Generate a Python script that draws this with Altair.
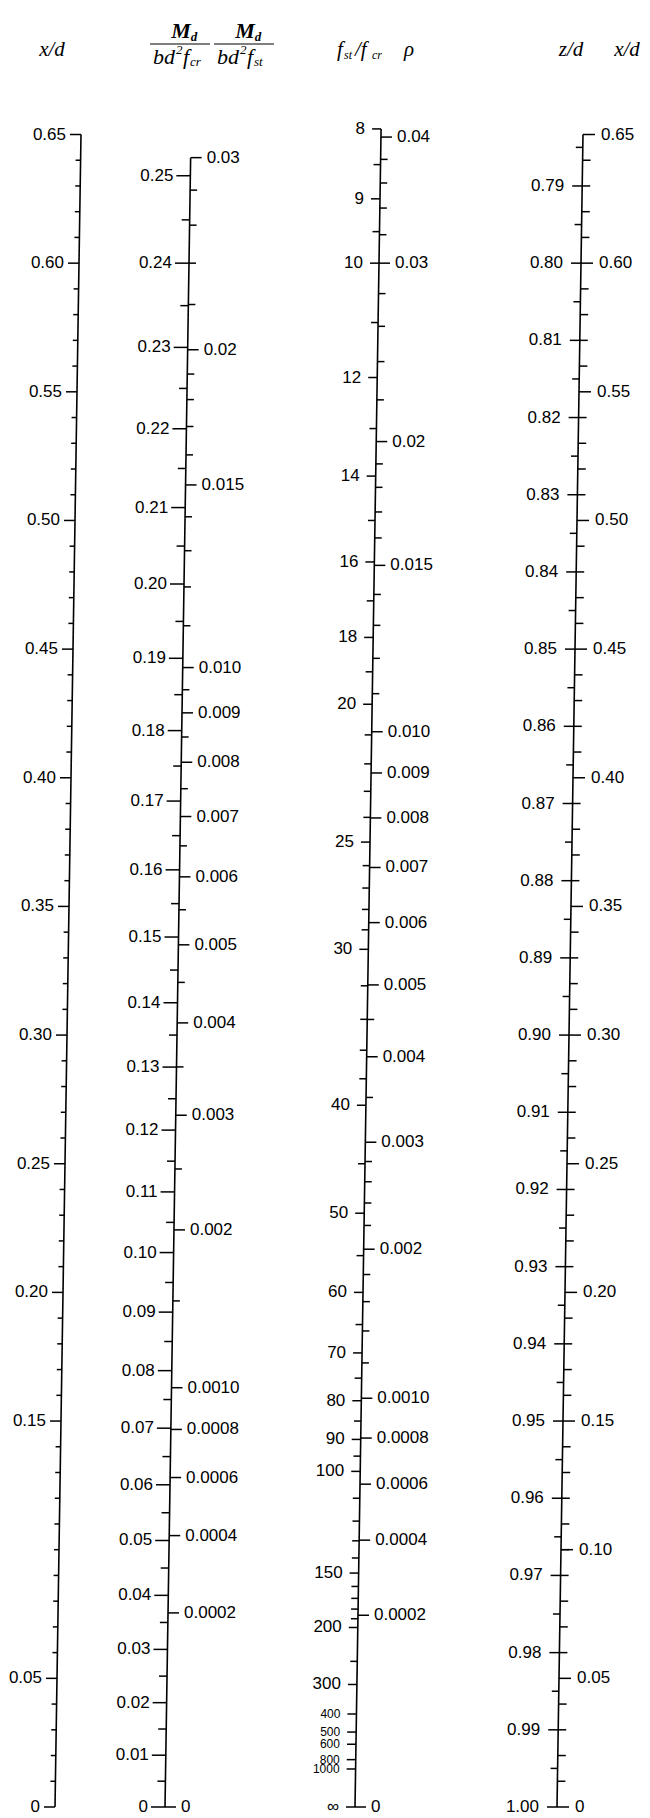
import math
import numpy as np
import pandas as pd
import altair as alt

# ------------------------------------------------------------------
# Scale values printed on the nomogram
# ------------------------------------------------------------------
# Scale 1 : x/d (left)
xd_left_values = [0.65, 0.60, 0.55, 0.50, 0.45, 0.40, 0.35, 0.30, 0.25, 0.20, 0.15, 0.05, 0.0]
xd_left_labels = ["0.65", "0.60", "0.55", "0.50", "0.45", "0.40", "0.35", "0.30", "0.25",
                  "0.20", "0.15", "0.05", "0"]
xd_left_minor = [0.64, 0.63, 0.62, 0.61, 0.59, 0.58, 0.57, 0.56, 0.54, 0.53, 0.52, 0.51,
                 0.49, 0.48, 0.47, 0.46, 0.44, 0.43, 0.42, 0.41, 0.39, 0.38, 0.37, 0.36,
                 0.34, 0.33, 0.32, 0.31, 0.29, 0.28, 0.27, 0.26, 0.24, 0.23, 0.22, 0.21,
                 0.19, 0.18, 0.17, 0.16, 0.14, 0.13, 0.12, 0.11, 0.10, 0.09, 0.08, 0.07,
                 0.06, 0.04, 0.03, 0.02, 0.01]

# Scale 2 : Md/(b d^2 fcr) (left side) and Md/(b d^2 fst) (right side)
mfcr_values = [0.25, 0.24, 0.23, 0.22, 0.21, 0.20, 0.19, 0.18, 0.17, 0.16, 0.15, 0.14, 0.13,
               0.12, 0.11, 0.10, 0.09, 0.08, 0.07, 0.06, 0.05, 0.04, 0.03, 0.02, 0.01, 0.0]
mfcr_labels = ["0.25", "0.24", "0.23", "0.22", "0.21", "0.20", "0.19", "0.18", "0.17", "0.16",
               "0.15", "0.14", "0.13", "0.12", "0.11", "0.10", "0.09", "0.08", "0.07", "0.06",
               "0.05", "0.04", "0.03", "0.02", "0.01", "0"]
mfcr_minor = [0.245, 0.235, 0.225, 0.215, 0.205, 0.195, 0.185, 0.175, 0.165, 0.155, 0.145,
              0.135, 0.125, 0.115, 0.105, 0.095, 0.085, 0.075, 0.065, 0.055, 0.045, 0.035,
              0.025, 0.015, 0.005]
mfst_values = [0.03, 0.02, 0.015, 0.010, 0.009, 0.008, 0.007, 0.006, 0.005, 0.004, 0.003,
               0.002, 0.0010, 0.0008, 0.0006, 0.0004, 0.0002, 0.0]
mfst_labels = ["0.03", "0.02", "0.015", "0.010", "0.009", "0.008", "0.007", "0.006", "0.005",
               "0.004", "0.003", "0.002", "0.0010", "0.0008", "0.0006", "0.0004", "0.0002", "0"]
mfst_minor = [0.028, 0.026, 0.024, 0.022, 0.019, 0.018, 0.017, 0.016, 0.014, 0.013, 0.012,
              0.011, 0.0095, 0.0085, 0.0075, 0.0065, 0.0055, 0.0045, 0.0035, 0.0025, 0.0015]

# Scale 3 : fst/fcr (left side) and rho (right side)
ratio_values = [8, 9, 10, 12, 14, 16, 18, 20, 25, 30, 40, 50, 60, 70, 80, 90, 100, 150, 200,
                300, 400, 500, 600, 800, 1000, math.inf]
ratio_labels = ["8", "9", "10", "12", "14", "16", "18", "20", "25", "30", "40", "50", "60",
                "70", "80", "90", "100", "150", "200", "300", "400", "500", "600", "800",
                "1000", "\u221e"]
ratio_minor = [8.5, 9.5, 11, 13, 15, 17, 19, 21, 22, 23, 24, 26, 27, 28, 29, 32, 34, 36, 38,
               45, 55, 65, 75, 85, 95, 110, 120, 130, 140, 160, 170, 180, 190, 250]
rho_values = [0.04, 0.03, 0.02, 0.015, 0.010, 0.009, 0.008, 0.007, 0.006, 0.005, 0.004,
              0.003, 0.002, 0.0010, 0.0008, 0.0006, 0.0004, 0.0002, 0.0]
rho_labels = ["0.04", "0.03", "0.02", "0.015", "0.010", "0.009", "0.008", "0.007", "0.006",
              "0.005", "0.004", "0.003", "0.002", "0.0010", "0.0008", "0.0006", "0.0004",
              "0.0002", "0"]
rho_minor = [0.038, 0.036, 0.034, 0.032, 0.028, 0.026, 0.024, 0.022, 0.019, 0.018, 0.017,
             0.016, 0.014, 0.013, 0.012, 0.011, 0.0045, 0.0035, 0.0028, 0.0026, 0.0024,
             0.0022, 0.0018, 0.0016, 0.0014, 0.0012]

# Scale 4 : z/d (left side) and x/d (right side)
zd_values = [0.79, 0.80, 0.81, 0.82, 0.83, 0.84, 0.85, 0.86, 0.87, 0.88, 0.89, 0.90, 0.91,
             0.92, 0.93, 0.94, 0.95, 0.96, 0.97, 0.98, 0.99, 1.00]
zd_labels = ["0.79", "0.80", "0.81", "0.82", "0.83", "0.84", "0.85", "0.86", "0.87", "0.88",
             "0.89", "0.90", "0.91", "0.92", "0.93", "0.94", "0.95", "0.96", "0.97", "0.98",
             "0.99", "1.00"]
zd_minor = [0.785, 0.795, 0.805, 0.815, 0.825, 0.835, 0.845, 0.855, 0.865, 0.875, 0.885,
            0.895, 0.905, 0.915, 0.925, 0.935, 0.945, 0.955, 0.965, 0.975, 0.985, 0.995]
xd_right_values = [0.65, 0.60, 0.55, 0.50, 0.45, 0.40, 0.35, 0.30, 0.25, 0.20, 0.15, 0.10,
                   0.05, 0.0]
xd_right_labels = ["0.65", "0.60", "0.55", "0.50", "0.45", "0.40", "0.35", "0.30", "0.25",
                   "0.20", "0.15", "0.10", "0.05", "0"]
xd_right_minor = xd_left_minor

# ------------------------------------------------------------------
# Nomogram relations: every scale is expressed on the common x/d axis
# (cracked elastic section, modular ratio m = 15)
# ------------------------------------------------------------------
M_RATIO = 15.0


def from_xd(v):
    return float(v)


def from_mfcr(m):          # Md/(bd^2 fcr) = 0.5 k (1 - k/3)
    return (3.0 - math.sqrt(9.0 - 24.0 * m)) / 2.0


def mfst_of(k):            # Md/(bd^2 fst) = rho * z/d
    return k * k / (2 * M_RATIO * (1 - k)) * (1 - k / 3.0)


def from_mfst(m):
    lo, hi = 0.0, 0.7
    for _ in range(60):
        mid = 0.5 * (lo + hi)
        if mfst_of(mid) < m:
            lo = mid
        else:
            hi = mid
    return 0.5 * (lo + hi)


def from_ratio(r):         # k = m / (m + fst/fcr)
    return 0.0 if math.isinf(r) else M_RATIO / (M_RATIO + r)


def from_rho(p):           # rho = k^2 / (2 m (1-k))
    a = 2 * M_RATIO * p
    return (-a + math.sqrt(a * a + 4 * a)) / 2.0


def from_zd(z):            # z/d = 1 - k/3
    return 3.0 * (1.0 - z)


# ------------------------------------------------------------------
# Layout (pixels)
# ------------------------------------------------------------------
AXIS_BASE = {1: 55, 2: 165, 3: 355, 4: 557}   # column of each scale at x/d = 0
SHEAR = 40.0                                   # slight slant of the printed scales
TICK_LEN = {
    (1, -1, "major"): 11, (1, -1, "minor"): 5,
    (2, -1, "major"): 14, (2, -1, "minor"): 8,
    (2, 1, "major"): 11, (2, 1, "minor"): 7,
    (3, -1, "major"): 9, (3, -1, "minor"): 7,
    (3, 1, "major"): 11, (3, 1, "minor"): 7,
    (4, -1, "major"): 10, (4, -1, "minor"): 7,
    (4, 1, "major"): 12, (4, 1, "minor"): 8,
}
GAP = {(1, -1): 4, (2, -1): 3, (2, 1): 5, (3, -1): 7, (3, 1): 5, (4, -1): 8, (4, 1): 6}

rows = []


def add(axis, side, values, labels, fn):
    for i, v in enumerate(values):
        rows.append(dict(axis=axis, side=side, kind="major" if labels else "minor",
                         k=fn(v), label=labels[i] if labels else ""))


add(1, -1, xd_left_values, xd_left_labels, from_xd)
add(1, -1, xd_left_minor, None, from_xd)
add(2, -1, mfcr_values, mfcr_labels, from_mfcr)
add(2, -1, mfcr_minor, None, from_mfcr)
add(2, 1, mfst_values, mfst_labels, from_mfst)
add(2, 1, mfst_minor, None, from_mfst)
add(3, -1, ratio_values, ratio_labels, from_ratio)
add(3, -1, ratio_minor, None, from_ratio)
add(3, 1, rho_values, rho_labels, from_rho)
add(3, 1, rho_minor, None, from_rho)
add(4, -1, zd_values, zd_labels, from_zd)
add(4, -1, zd_minor, None, from_zd)
add(4, 1, xd_right_values, xd_right_labels, from_xd)
add(4, 1, xd_right_minor, None, from_xd)

ticks = pd.DataFrame(rows)
ticks["x0"] = ticks["axis"].map(AXIS_BASE) + SHEAR * ticks["k"]
ticks["len"] = [TICK_LEN[(a, s, kd)] for a, s, kd in zip(ticks["axis"], ticks["side"], ticks["kind"])]
ticks["gap"] = [GAP[(a, s)] for a, s in zip(ticks["axis"], ticks["side"])]
ticks["x1"] = ticks["x0"] + ticks["side"] * ticks["len"]
ticks["xl"] = ticks["x1"] + ticks["side"] * ticks["gap"]

axis_top = {1: from_xd(0.65), 2: from_mfst(0.03), 3: from_ratio(8), 4: from_xd(0.65)}
lines = pd.DataFrame({"axis": [1, 2, 3, 4]})
lines["k0"] = 0.0
lines["k1"] = lines["axis"].map(axis_top)
lines["x0"] = lines["axis"].map(AXIS_BASE)
lines["x1"] = lines["x0"] + SHEAR * lines["k1"]

# ------------------------------------------------------------------
# Chart
# ------------------------------------------------------------------
XS = alt.Scale(domain=[8, 642], range=[0, 634], nice=False, zero=False)
YS = alt.Scale(domain=[0, 0.65], range=[1799, 126.5], nice=False, zero=False)
LABEL_FONT = "Liberation Sans"
SERIF = "Liberation Serif"
LS = 17
CROWDED = ["400", "500", "600", "800", "1000"]   # tightly packed end of the fst/fcr scale

axis_lines = alt.Chart(lines).mark_rule(color="black", strokeWidth=1.6).encode(
    x=alt.X("x0:Q", scale=XS, axis=None),
    x2="x1:Q",
    y=alt.Y("k0:Q", scale=YS, axis=None),
    y2="k1:Q",
)

tick_rules = alt.Chart(ticks).mark_rule(color="black", strokeWidth=1.5).encode(
    x=alt.X("x0:Q", scale=XS, axis=None),
    x2="x1:Q",
    y=alt.Y("k:Q", scale=YS, axis=None),
)

labels_df = ticks[ticks["label"] != ""]
crowded = labels_df["label"].isin(CROWDED) & (labels_df["axis"] == 3)


def label_layer(df, align, size):
    return alt.Chart(df).mark_text(
        align=align, baseline="middle", font=LABEL_FONT, fontSize=size, color="black"
    ).encode(
        x=alt.X("xl:Q", scale=XS, axis=None),
        y=alt.Y("k:Q", scale=YS, axis=None),
        text="label:N",
    )


left_labels = label_layer(labels_df[(labels_df["side"] < 0) & ~crowded], "right", LS)
crowded_labels = label_layer(labels_df[crowded], "right", 12)
right_labels = label_layer(labels_df[labels_df["side"] > 0], "left", LS)

one = pd.DataFrame({"d": [0]})


def htext(s, px, py, size=21, align="center", bold=False):
    return alt.Chart(one).mark_text(
        text=s, align=align, baseline="middle", font=SERIF, fontSize=size,
        fontStyle="italic", fontWeight="bold" if bold else "normal", color="black"
    ).encode(x=alt.value(px - 8), y=alt.value(py - 8))


def hline(xa, xb, py):
    return alt.Chart(one).mark_rule(color="black", strokeWidth=1.2).encode(
        x=alt.value(xa - 8), x2=alt.value(xb - 8), y=alt.value(py - 8)
    )


def fraction(cx, sub):
    # numerator M_d, rule, denominator b d^2 f_sub
    return [
        htext("M", cx + 2, 31, 22, bold=True), htext("d", cx + 15, 37, 13, bold=True),
        hline(cx - 29, cx + 31, 44),
        htext("bd", cx - 26, 57, 22, align="left"),
        htext("2", cx - 3, 50, 13, align="left"),
        htext("f", cx + 4, 57, 22, align="left"),
        htext(sub, cx + 11, 62, 13, align="left"),
    ]


headers = (
    [htext("x/d", 52, 50)]
    + fraction(179, "cr")
    + fraction(243, "st")
    + [
        htext("f", 337, 50, 21, align="left"), htext("st", 344, 55, 12, align="left"),
        htext("/f", 355, 50, 21, align="left"), htext("cr", 372, 55, 12, align="left"),
        htext("\u03c1", 409, 50, 21),
        htext("z/d", 571, 50),
        htext("x/d", 627, 50),
    ]
)

chart = alt.layer(axis_lines, tick_rules, left_labels, crowded_labels, right_labels,
                  *headers).properties(
    width=634, height=1810, padding=0, autosize=alt.AutoSizeParams(type="none")
).configure_view(stroke=None)

chart.save("out.html", embed_options={"renderer": "svg", "actions": False})
